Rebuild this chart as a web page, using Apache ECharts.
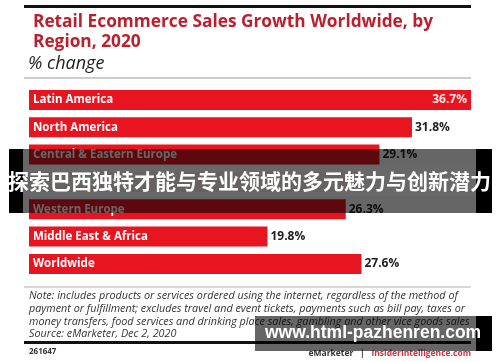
<!DOCTYPE html>
<html>
<head>
<meta charset="utf-8">
<script src="https://cdn.jsdelivr.net/npm/echarts@6/dist/echarts.min.js"></script>
<style>html,body{margin:0;padding:0;background:#fff}#c{width:500px;height:362px}</style>
</head>
<body>
<div id="c"></div>
<script>
const categories = ['Latin America','North America','Central & Eastern Europe','Asia-Pacific','Western Europe','Middle East & Africa','Worldwide'];
const growth = [36.7, 31.8, 29.1, 26.4, 26.3, 19.8, 27.6];
const titleText = 'Retail Ecommerce Sales Growth Worldwide, by\nRegion, 2020';
const subtitleText = '% change';
const noteLines = [
  'Note: includes products or services ordered using the internet, regardless of the method of',
  'payment or fulfillment; excludes travel and event tickets, payments such as bill pay, taxes or',
  'money transfers, food services and drinking place sales, gambling and other vice goods sales',
  'Source: eMarketer, Dec 2, 2020'
];
const chartId = '261647';
const bannerText1 = '探索巴西独特才能与专业领域的多元魅力与创新潜力';
const bannerText2 = 'www.html-pazhenren.com';

const RED = '#e8141f';
const FONT = '"Open Sans"';
const chart = echarts.init(document.getElementById('c'), null, {renderer:'canvas'});

const valueData = growth.map((v,i)=> i===0 ? {value:v, label:{position:'insideRight', color:'#ffe9ea', offset:[-1,0]}} : v);

chart.setOption({
  animation:false,
  textStyle:{fontFamily:'Open Sans'},
  title:{
    text:titleText, left:28, top:7,
    textStyle:{color:'#bd1e2d', fontSize:17.3, fontWeight:'bold', lineHeight:20, fontFamily:'Open Sans'}
  },
  grid:{left:29, right:29, top:86.3, height:191.3, containLabel:false},
  xAxis:{type:'value', min:0, max:36.7, show:false},
  yAxis:{type:'category', data:categories, inverse:true, show:false},
  series:[
    {type:'bar', data:growth, barWidth:20, itemStyle:{color:RED},
     label:{show:true, position:'insideLeft', distance:4, formatter:'{b}', color:'#fff', fontWeight:'bold', fontSize:11.5, fontFamily:'Open Sans'}},
    {type:'bar', data:valueData, barWidth:20, barGap:'-100%', itemStyle:{color:'rgba(0,0,0,0)'},
     label:{show:true, position:'right', distance:3, formatter:(p)=>p.value.toFixed(1)+'%', color:'#222', fontWeight:'bold', fontSize:12, fontFamily:'Open Sans'}}
  ],
  graphic:[
    {type:'rect', shape:{x:24, y:5, width:447, height:3}, style:{fill:'#111'}},
    {type:'text', left:28, top:55, style:{text:subtitleText, fill:'#222', font:'italic 18px '+FONT}},
    {type:'rect', shape:{x:24, y:77.5, width:447, height:1}, style:{fill:'#9a9a9a'}},
    {type:'rect', shape:{x:24, y:286.5, width:447, height:1}, style:{fill:'#b0b0b0'}},
    {type:'text', left:29, top:290, style:{text:noteLines.join('\n'), fill:'#333', font:'italic 10.8px '+FONT, lineHeight:12.6}},
    {type:'rect', shape:{x:24, y:341, width:447, height:3}, style:{fill:'#111'}},
    {type:'text', left:29, top:348, style:{text:chartId, fill:'#333', font:'bold 8px '+FONT}},
    {type:'text', x:471, y:354, style:{
      text:'{a|eMarketer}  {a||}  {b|InsiderIntelligence.com}', align:'right', verticalAlign:'middle',
      rich:{a:{fill:'#333', font:'bold 8.5px '+FONT}, b:{fill:'#d2303c', font:'bold 8.5px '+FONT}}
    }},
    // banner 1
    {type:'rect', z:100, shape:{x:9, y:149, width:14, height:64}, style:{fill:'#000'}},
    {type:'rect', z:100, shape:{x:476, y:149, width:16, height:64}, style:{fill:'#000'}},
    {type:'rect', z:100, shape:{x:23, y:149, width:453, height:64}, style:{fill:'rgba(0,0,0,0.6)'}},
    {type:'rect', z:101, shape:{x:23, y:166, width:453, height:30}, style:{fill:'rgba(104,104,104,0.93)'}},
    {type:'text', z:102, left:8, top:171, style:{text:bannerText1, fill:'#fff', font:'bold 21px "Noto Sans CJK SC"'}},
    // banner 2
    {type:'rect', z:100, shape:{x:476, y:316, width:16, height:35}, style:{fill:'#000'}},
    {type:'rect', z:100, shape:{x:255, y:316, width:221, height:35}, style:{fill:'rgba(0,0,0,0.6)'}},
    {type:'text', z:102, left:265, top:324, style:{text:bannerText2, fill:'#fff', font:'bold 17.5px "Liberation Sans"'}}
  ]
});
</script>
</body>
</html>
